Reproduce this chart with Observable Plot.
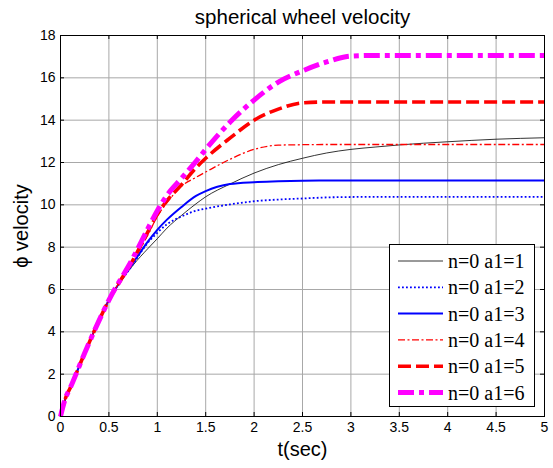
<!DOCTYPE html>
<html><head><meta charset="utf-8">
<script src="https://cdn.jsdelivr.net/npm/d3@7"></script>
<script src="https://cdn.jsdelivr.net/npm/@observablehq/plot@0.6"></script>
<style>
body{margin:0;background:#fff;}
#wrap{position:relative;width:553px;height:468px;}
#legend{position:absolute;left:389px;top:244px;}
</style></head><body><div id="wrap"></div>
<script>
const t  = [0, 0.05, 0.1, 0.25, 0.5, 0.75, 0.9, 1.0, 1.1, 1.25, 1.4, 1.5, 1.75, 2.0, 2.25, 2.5, 2.75, 3.0, 3.25, 3.5, 4.0, 4.5, 5.0];
const v1 = [0, 0.85, 1.35, 3.0, 5.5, 7.15, 7.92, 8.4, 8.9, 9.5, 10.05, 10.38, 10.98, 11.5, 11.9, 12.2, 12.45, 12.62, 12.73, 12.83, 12.98, 13.1, 13.17];
const v2 = [0, 0.85, 1.35, 3.0, 5.5, 7.2, 8.2, 8.68, 9.08, 9.45, 9.72, 9.82, 10.02, 10.17, 10.25, 10.3, 10.35, 10.37, 10.38, 10.38, 10.38, 10.38, 10.38];
const v3 = [0, 0.85, 1.35, 3.0, 5.5, 7.25, 8.25, 8.82, 9.3, 9.9, 10.42, 10.65, 10.98, 11.07, 11.11, 11.14, 11.15, 11.15, 11.15, 11.15, 11.15, 11.15, 11.15];
const v4 = [0, 0.85, 1.35, 3.0, 5.5, 7.35, 8.55, 9.45, 10.1, 10.88, 11.3, 11.55, 12.15, 12.62, 12.82, 12.84, 12.85, 12.85, 12.85, 12.85, 12.85, 12.85, 12.85];
const v5 = [0, 0.85, 1.35, 3.0, 5.5, 7.4, 8.7, 9.55, 10.2, 10.95, 11.75, 12.2, 13.15, 14.0, 14.52, 14.82, 14.86, 14.86, 14.86, 14.86, 14.86, 14.86, 14.86];
const v6 = [0, 0.85, 1.35, 3.0, 5.5, 7.5, 8.85, 9.72, 10.45, 11.25, 12.05, 12.62, 13.9, 14.95, 15.8, 16.33, 16.75, 17.03, 17.06, 17.06, 17.06, 17.06, 17.06];
const seriesValues = [v1, v2, v3, v4, v5, v6];
const seriesNames = ["n=0 a1=1", "n=0 a1=2", "n=0 a1=3", "n=0 a1=4", "n=0 a1=5", "n=0 a1=6"];
const xTicks = [0, 0.5, 1, 1.5, 2, 2.5, 3, 3.5, 4, 4.5, 5];
const yTicks = [0, 2, 4, 6, 8, 10, 12, 14, 16, 18];
const titleText = "spherical wheel velocity";
const xLabel = "t(sec)";
const yLabel = "\u03D5 velocity";

const styles = [
  {stroke: "#000000", width: 0.8, dash: null},
  {stroke: "#0000ff", width: 1.8, dash: "1.8,2.2"},
  {stroke: "#0000ff", width: 2, dash: null},
  {stroke: "#ff0000", width: 1.3, dash: "7,2.5,2,2.5"},
  {stroke: "#ff0000", width: 3.6, dash: "13,5"},
  {stroke: "#ff00ff", width: 5, dash: "16,5,5,5"}
];

const W = 553, H = 468, mL = 60, mR = 9, mT = 35, mB = 52;
const fw = W - mL - mR, fh = H - mT - mB;

const lineMarks = seriesValues.map((vals, k) =>
  Plot.line(t.map((x, i) => ({t: x, v: vals[i]})), {
    x: "t", y: "v", stroke: styles[k].stroke, strokeWidth: styles[k].width,
    strokeDasharray: styles[k].dash, curve: "monotone-x", strokeLinecap: "butt"
  })
);

const plot = Plot.plot({
  width: W, height: H,
  marginLeft: mL, marginRight: mR, marginTop: mT, marginBottom: mB,
  style: {fontFamily: "'Liberation Sans', Arial, sans-serif", color: "#000", background: "#fff"},
  x: {domain: [0, 5], label: null},
  y: {domain: [0, 18], label: null},
  marks: [
    Plot.gridX(xTicks, {stroke: "#a8a8a8", strokeOpacity: 1, strokeWidth: 1}),
    Plot.gridY(yTicks, {stroke: "#a8a8a8", strokeOpacity: 1, strokeWidth: 1}),
    Plot.ruleX(xTicks, {x: d => d, insetTop: fh - 4, stroke: "#000"}),
    Plot.ruleX(xTicks, {x: d => d, insetBottom: fh - 4, stroke: "#000"}),
    Plot.ruleY(yTicks, {y: d => d, insetRight: fw - 4, stroke: "#000"}),
    Plot.ruleY(yTicks, {y: d => d, insetLeft: fw - 4, stroke: "#000"}),
    Plot.axisX(xTicks, {tickSize: 0, tickPadding: 6, fontSize: 14, label: null, tickFormat: d => String(d)}),
    Plot.axisY(yTicks, {tickSize: 0, tickPadding: 5, fontSize: 14, label: null, tickFormat: d => String(d)}),
    ...lineMarks,
    Plot.frame({stroke: "#000", strokeWidth: 1}),
    Plot.text([titleText], {frameAnchor: "top", dy: -12, lineAnchor: "bottom", fontSize: 20.5, text: d => d}),
    Plot.text([xLabel], {frameAnchor: "bottom", dy: 33, lineAnchor: "middle", fontSize: 20, text: d => d}),
    Plot.text([yLabel], {frameAnchor: "left", dx: -38.5, rotate: -90, textAnchor: "middle", lineAnchor: "middle", fontSize: 20, text: d => d})
  ]
});
document.getElementById("wrap").appendChild(plot);

// legend
const lg = d3.select("#wrap").append("svg").attr("id", "legend")
  .attr("width", 146).attr("height", 163);
lg.append("rect").attr("x", 0.5).attr("y", 0.5).attr("width", 145).attr("height", 162)
  .attr("fill", "#fff").attr("stroke", "#000").attr("stroke-width", 1);
seriesNames.forEach((name, k) => {
  const cy = 17 + k * 26.3;
  lg.append("line").attr("x1", 9).attr("x2", 54).attr("y1", cy).attr("y2", cy)
    .attr("stroke", styles[k].stroke).attr("stroke-width", styles[k].width)
    .attr("stroke-dasharray", styles[k].dash);
  lg.append("text").attr("x", 59).attr("y", cy).attr("dy", "0.35em")
    .attr("font-family", "'Liberation Serif', 'Times New Roman', serif")
    .attr("font-size", 20).attr("fill", "#000").text(name);
});
</script></body></html>
